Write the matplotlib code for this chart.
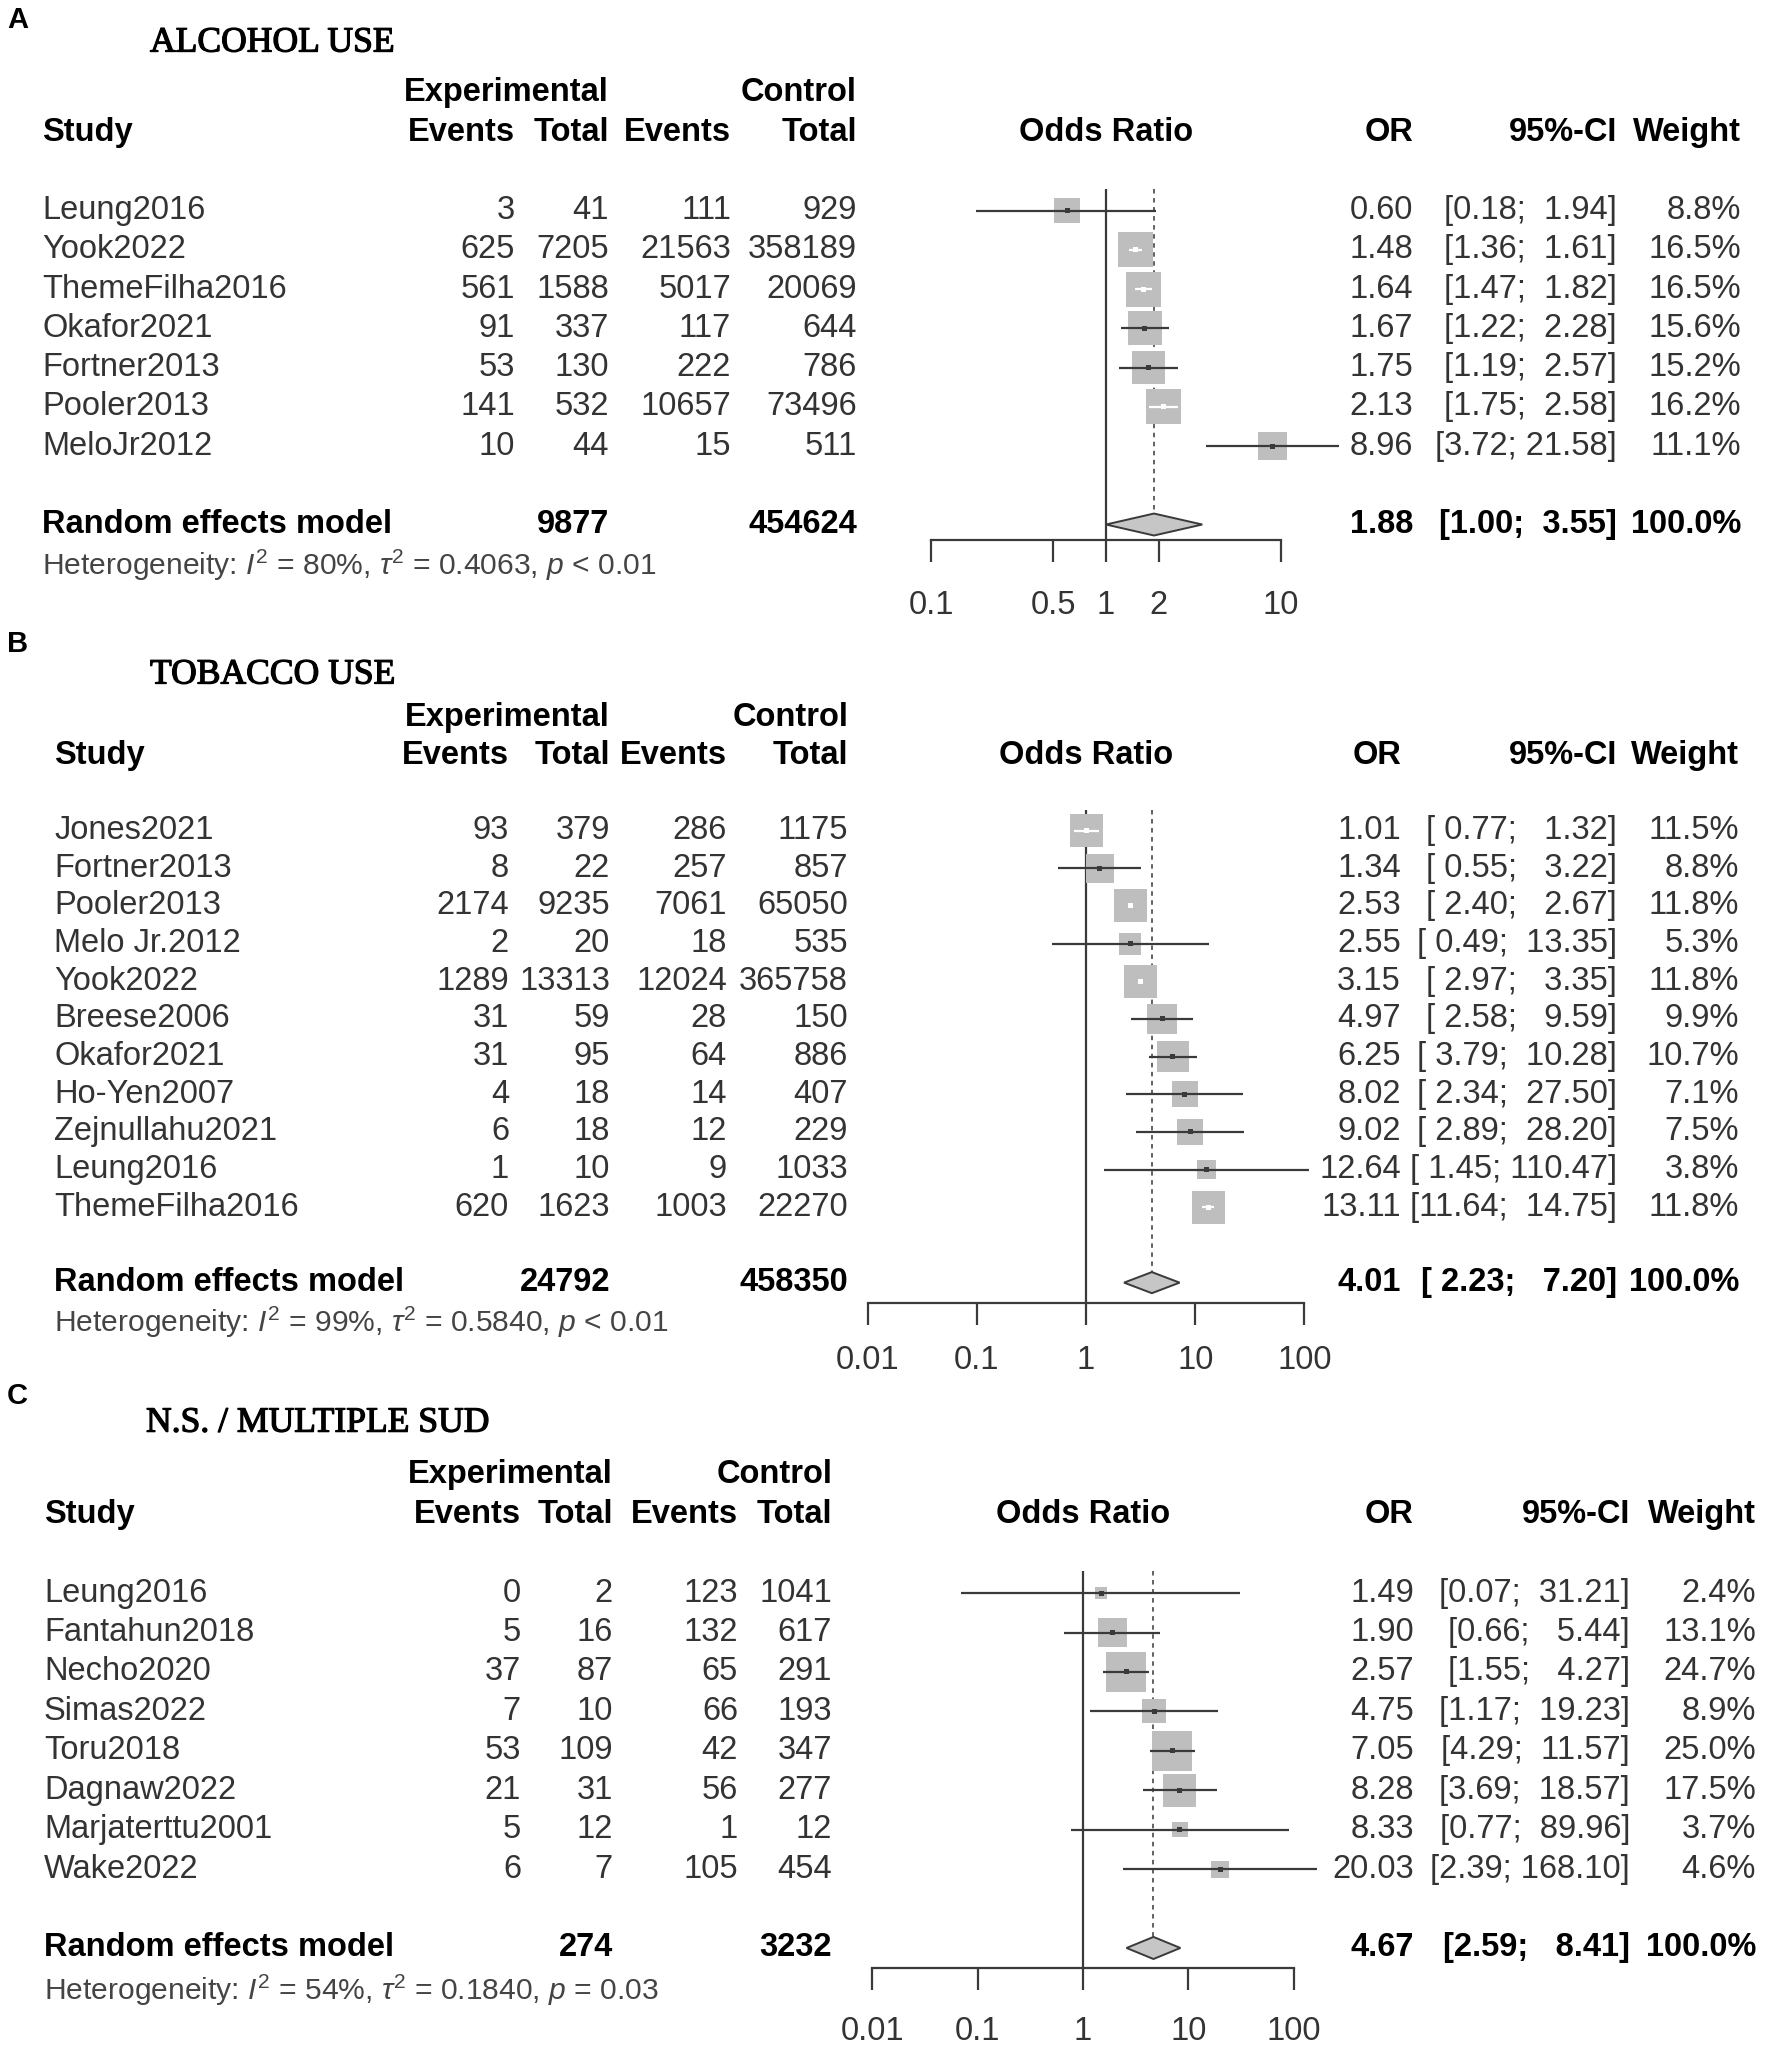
import numpy as np
import matplotlib
matplotlib.use('Agg')
import matplotlib.pyplot as plt
from matplotlib import transforms
from matplotlib import patheffects
from matplotlib.ticker import NullLocator

plt.rcParams['font.family'] = ['Liberation Sans', 'DejaVu Sans']
plt.rcParams['mathtext.fontset'] = 'custom'
plt.rcParams['mathtext.rm'] = 'Liberation Sans'
plt.rcParams['mathtext.it'] = 'Liberation Sans:italic'
plt.rcParams['mathtext.bf'] = 'Liberation Sans:bold'

W, H = 1772, 2051

# ---- A: alcohol use
alc_study = ['Leung2016', 'Yook2022', 'ThemeFilha2016', 'Okafor2021', 'Fortner2013', 'Pooler2013', 'MeloJr2012']
alc_exp_ev = [3, 625, 561, 91, 53, 141, 10]
alc_exp_tot = [41, 7205, 1588, 337, 130, 532, 44]
alc_ctl_ev = [111, 21563, 5017, 117, 222, 10657, 15]
alc_ctl_tot = [929, 358189, 20069, 644, 786, 73496, 511]
alc_or = [0.60, 1.48, 1.64, 1.67, 1.75, 2.13, 8.96]
alc_lo = [0.18, 1.36, 1.47, 1.22, 1.19, 1.75, 3.72]
alc_hi = [1.94, 1.61, 1.82, 2.28, 2.57, 2.58, 21.58]
alc_w = [8.8, 16.5, 16.5, 15.6, 15.2, 16.2, 11.1]
alc_re = [1.88, 1.00, 3.55]
alc_tot = [9877, 454624]
alc_het = ['80%', '0.4063', '< 0.01']
alc_ticks = [0.1, 0.5, 1, 2, 10]
alc_ticklabels = ['0.1', '0.5', '1', '2', '10']

# ---- B: tobacco use
tob_study = ['Jones2021', 'Fortner2013', 'Pooler2013', 'Melo Jr.2012', 'Yook2022', 'Breese2006',
             'Okafor2021', 'Ho-Yen2007', 'Zejnullahu2021', 'Leung2016', 'ThemeFilha2016']
tob_exp_ev = [93, 8, 2174, 2, 1289, 31, 31, 4, 6, 1, 620]
tob_exp_tot = [379, 22, 9235, 20, 13313, 59, 95, 18, 18, 10, 1623]
tob_ctl_ev = [286, 257, 7061, 18, 12024, 28, 64, 14, 12, 9, 1003]
tob_ctl_tot = [1175, 857, 65050, 535, 365758, 150, 886, 407, 229, 1033, 22270]
tob_or = [1.01, 1.34, 2.53, 2.55, 3.15, 4.97, 6.25, 8.02, 9.02, 12.64, 13.11]
tob_lo = [0.77, 0.55, 2.40, 0.49, 2.97, 2.58, 3.79, 2.34, 2.89, 1.45, 11.64]
tob_hi = [1.32, 3.22, 2.67, 13.35, 3.35, 9.59, 10.28, 27.50, 28.20, 110.47, 14.75]
tob_w = [11.5, 8.8, 11.8, 5.3, 11.8, 9.9, 10.7, 7.1, 7.5, 3.8, 11.8]
tob_re = [4.01, 2.23, 7.20]
tob_tot = [24792, 458350]
tob_het = ['99%', '0.5840', '< 0.01']
tob_ticks = [0.01, 0.1, 1, 10, 100]
tob_ticklabels = ['0.01', '0.1', '1', '10', '100']

# ---- C: n.s. / multiple SUD
sud_study = ['Leung2016', 'Fantahun2018', 'Necho2020', 'Simas2022', 'Toru2018', 'Dagnaw2022',
             'Marjaterttu2001', 'Wake2022']
sud_exp_ev = [0, 5, 37, 7, 53, 21, 5, 6]
sud_exp_tot = [2, 16, 87, 10, 109, 31, 12, 7]
sud_ctl_ev = [123, 132, 65, 66, 42, 56, 1, 105]
sud_ctl_tot = [1041, 617, 291, 193, 347, 277, 12, 454]
sud_or = [1.49, 1.90, 2.57, 4.75, 7.05, 8.28, 8.33, 20.03]
sud_lo = [0.07, 0.66, 1.55, 1.17, 4.29, 3.69, 0.77, 2.39]
sud_hi = [31.21, 5.44, 4.27, 19.23, 11.57, 18.57, 89.96, 168.10]
sud_w = [2.4, 13.1, 24.7, 8.9, 25.0, 17.5, 3.7, 4.6]
sud_re = [4.67, 2.59, 8.41]
sud_tot = [274, 3232]
sud_het = ['54%', '0.1840', '= 0.03']
sud_ticks = [0.01, 0.1, 1, 10, 100]
sud_ticklabels = ['0.01', '0.1', '1', '10', '100']

FS = 23.5
TXT = '#333333'
SQ = '#BEBEBE'
LN = '#3a3a3a'

fig = plt.figure(figsize=(W / 100, H / 100), dpi=100)


def panel(letter, title, study, ee, et, ce, ct, orr, lo, hi, w, re, tot, het,
          ticks, ticklabels, lay):
    y0, dy = lay['y0'], lay['dy']
    top_row = -0.55
    axis_row = lay['axis_row']
    ptop = y0 + top_row * dy
    pbot = y0 + axis_row * dy
    ax = fig.add_axes([lay['axl'] / W, 1 - pbot / H, (lay['axr'] - lay['axl']) / W, (pbot - ptop) / H])
    ax.set_facecolor('none')
    ax.set_xscale('log')
    ax.set_xlim(*lay['xlim'])
    ax.set_ylim(axis_row, top_row)
    for s in ['top', 'left', 'right']:
        ax.spines[s].set_visible(False)
    ax.spines['bottom'].set_color(LN)
    ax.spines['bottom'].set_linewidth(1.6)
    ax.set_yticks([])
    ax.xaxis.set_minor_locator(NullLocator())
    ax.set_xticks(ticks)
    ax.set_xticklabels(ticklabels)
    ax.tick_params(axis='x', length=16, width=1.6, color=LN, pad=lay['pad'],
                   labelsize=FS, labelcolor=TXT)

    n = len(study)
    rows = np.arange(n)
    re_row = n + 1
    w = np.array(w)
    orr = np.array(orr)
    lo = np.array(lo)
    hi = np.array(hi)

    # squares, side proportional to sqrt(weight)
    side_px = lay['sq'] * np.sqrt(w / w.max())
    ax.scatter(orr, rows, marker='s', s=(side_px * 0.72) ** 2, c=SQ, edgecolors='none',
               zorder=3, clip_on=False)
    xl = np.log10(lay['xlim'])
    ppd = (lay['axr'] - lay['axl']) / (xl[1] - xl[0])
    half = side_px / 2 / ppd
    inside = (np.log10(hi) - np.log10(orr) < half) & (np.log10(orr) - np.log10(lo) < half)
    cols = ['white' if i else LN for i in inside]
    ax.hlines(rows, lo, hi, colors=cols, lw=1.6, zorder=4, clip_on=False)
    ax.scatter(orr, rows, marker='s', s=(5 * 0.72) ** 2, c=cols, edgecolors='none', zorder=5,
               clip_on=False)

    # reference lines and diamond
    h = 0.28
    ax.axvline(1, color=LN, lw=1.6, zorder=2)
    ax.plot([re[0], re[0]], [top_row, re_row - h], ls=(0, (2.5, 2.5)), color='#555555',
            lw=1.3, zorder=1)
    ax.fill([re[1], re[0], re[2], re[0]], [re_row, re_row - h, re_row, re_row + h],
            facecolor='#C6C6C6', edgecolor=LN, lw=1.4, zorder=4, clip_on=False)

    tr = transforms.blended_transform_factory(fig.transFigure, ax.transData)

    def txt(px, row, s, ha='right', bold=False, color=TXT, size=FS, **kw):
        fig.text(px / W, row, s, transform=tr, ha=ha, va='center', fontsize=size,
                 fontweight='bold' if bold else 'normal', color=color, **kw)

    # letter and title
    txt(7, lay['letter_row'], letter, ha='left', bold=True, color='black', size=21)
    txt(lay['title_x'], lay['title_row'], title, ha='left', color='black', size=25.6,
        family='Liberation Serif',
        path_effects=[patheffects.withStroke(linewidth=0.9, foreground='black')])

    # headers
    txt(lay['study_x'], -2, 'Study', ha='left', bold=True, color='black')
    txt(lay['et'], -3, 'Experimental', bold=True, color='black')
    txt(lay['ct'], -3, 'Control', bold=True, color='black')
    txt(lay['ee'], -2, 'Events', bold=True, color='black')
    txt(lay['et'], -2, 'Total', bold=True, color='black')
    txt(lay['ce'], -2, 'Events', bold=True, color='black')
    txt(lay['ct'], -2, 'Total', bold=True, color='black')
    txt((lay['axl'] + lay['axr']) / 2, -2, 'Odds Ratio', ha='center', bold=True, color='black')
    txt(lay['or'], -2, 'OR', bold=True, color='black')
    txt(lay['ci'], -2, '95%-CI', bold=True, color='black')
    txt(lay['w'], -2, 'Weight', bold=True, color='black')

    lo_s = ['%.2f' % v for v in list(lo) + [re[1]]]
    hi_s = ['%.2f' % v for v in list(hi) + [re[2]]]
    lw_ = max(len(s) for s in lo_s)
    hw_ = max(len(s) for s in hi_s)
    ci_s = ['[%s; %s]' % (a.rjust(lw_), b.rjust(hw_)) for a, b in zip(lo_s, hi_s)]

    for i in range(n):
        txt(lay['study_x'], i, study[i], ha='left')
        txt(lay['ee'], i, str(ee[i]))
        txt(lay['et'], i, str(et[i]))
        txt(lay['ce'], i, str(ce[i]))
        txt(lay['ct'], i, str(ct[i]))
        txt(lay['or'], i, '%.2f' % orr[i])
        txt(lay['ci'], i, ci_s[i])
        txt(lay['w'], i, '%.1f%%' % w[i])

    txt(lay['study_x'], re_row, 'Random effects model', ha='left', bold=True, color='black')
    txt(lay['et'], re_row, str(tot[0]), bold=True, color='black')
    txt(lay['ct'], re_row, str(tot[1]), bold=True, color='black')
    txt(lay['or'], re_row, '%.2f' % re[0], bold=True, color='black')
    txt(lay['ci'], re_row, ci_s[-1], bold=True, color='black')
    txt(lay['w'], re_row, '100.0%', bold=True, color='black')

    het_s = (r'Heterogeneity: $I^2$ = %s, $\tau^2$ = %s, $p$ %s' % (het[0], het[1], het[2]))
    txt(lay['study_x'], lay['het_row'], het_s, ha='left', color='#444444', size=21.6)


lay_a = dict(y0=210.6, dy=39.24, axis_row=8.4, pad=20, axl=931, axr=1281, xlim=(0.1, 10),
             study_x=42, ee=515, et=609, ce=731, ct=857, sq=35,
             title_x=150, title_row=-4.27, letter_row=-4.85, het_row=9.03)
lay_a['or'], lay_a['ci'], lay_a['w'] = 1413, 1617, 1741

lay_b = dict(y0=830.6, dy=37.67, axis_row=12.53, pad=14.5, axl=867.6, axr=1304.4, xlim=(0.01, 100),
             study_x=54, ee=509, et=610, ce=727, ct=848, sq=33,
             title_x=150, title_row=-4.13, letter_row=-4.95, het_row=13.06)
lay_b['or'], lay_b['ci'], lay_b['w'] = 1401, 1617, 1739

lay_c = dict(y0=1593.1, dy=39.43, axis_row=9.52, pad=18, axl=872.4, axr=1293.6, xlim=(0.01, 100),
             study_x=44, ee=521, et=613, ce=738, ct=832, sq=40,
             title_x=146, title_row=-4.31, letter_row=-5.0, het_row=10.08)
lay_c['or'], lay_c['ci'], lay_c['w'] = 1414, 1630, 1756

panel('A', 'ALCOHOL USE', alc_study, alc_exp_ev, alc_exp_tot, alc_ctl_ev, alc_ctl_tot,
      alc_or, alc_lo, alc_hi, alc_w, alc_re, alc_tot, alc_het, alc_ticks, alc_ticklabels, lay_a)
panel('B', 'TOBACCO USE', tob_study, tob_exp_ev, tob_exp_tot, tob_ctl_ev, tob_ctl_tot,
      tob_or, tob_lo, tob_hi, tob_w, tob_re, tob_tot, tob_het, tob_ticks, tob_ticklabels, lay_b)
panel('C', 'N.S. / MULTIPLE SUD', sud_study, sud_exp_ev, sud_exp_tot, sud_ctl_ev, sud_ctl_tot,
      sud_or, sud_lo, sud_hi, sud_w, sud_re, sud_tot, sud_het, sud_ticks, sud_ticklabels, lay_c)

fig.savefig('out.png', dpi=100)
